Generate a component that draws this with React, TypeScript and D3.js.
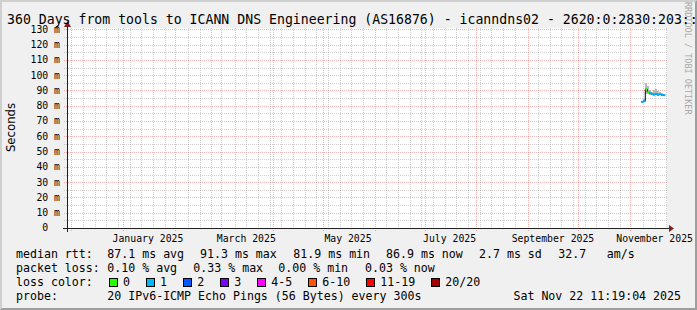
import React from 'react';
import * as d3 from 'd3';

const W = 697;
const H = 310;

const TITLE = '360 Days from tools to ICANN DNS Engineering (AS16876) - icanndns02 - 2620:0:2830:203::';
const Y_LABEL = 'Seconds';
const WATERMARK = 'RRDTOOL / TOBI OETIKER';

const timeDomain = ['2024-11-28T10:00:00Z', '2025-11-23T10:00:00Z'];
const yMax = 130.9;
const yMajorTicks = [10, 20, 30, 40, 50, 60, 70, 80, 90, 100, 110, 120, 130];
const yMinorTicks = [5, 15, 25, 35, 45, 55, 65, 75, 85, 95, 105, 115, 125];
const yLabelTicks = [0, 10, 20, 30, 40, 50, 60, 70, 80, 90, 100, 110, 120, 130];
const monthLabelDates = ['2025-01-16', '2025-03-16', '2025-05-16', '2025-07-16', '2025-09-16', '2025-11-16'];

// smoke / median samples (ms)
const sampleTimes = [
  '2025-11-08T00:00:00Z', '2025-11-09T04:48:00Z', '2025-11-10T09:36:00Z', '2025-11-11T14:24:00Z',
  '2025-11-12T19:12:00Z', '2025-11-14T00:00:00Z', '2025-11-15T04:48:00Z', '2025-11-16T09:36:00Z',
  '2025-11-17T14:24:00Z', '2025-11-18T19:12:00Z', '2025-11-20T00:00:00Z', '2025-11-21T04:48:00Z',
];
const medianRtt = [82.6, 83.0, 90.8, 89.0, 88.3, 87.6, 87.4, 87.8, 87.2, 87.5, 87.0, 86.9];
const smokeLow = [82.0, 82.3, 87.5, 87.6, 87.2, 86.9, 86.7, 86.9, 86.6, 86.8, 86.5, 86.4];
const smokeHigh = [83.2, 84.5, 95.0, 92.8, 90.0, 89.0, 90.5, 91.3, 89.5, 89.0, 88.2, 88.0];
const lossCount = [1, 1, 0, 0, 1, 1, 1, 1, 1, 1, 1, 1];

// legend
const rttValues = ['87.1', '91.3', '81.9', '86.9', '2.7'];
const rttUnits = ['ms avg', 'ms max', 'ms min', 'ms now', 'ms sd'];
const amValue = '32.7';
const amUnit = 'am/s';
const lossValues = ['0.10', '0.33', '0.00', '0.03'];
const lossUnits = ['% avg', '% max', '% min', '% now'];
const lossLabels = ['0', '1', '2', '3', '4-5', '6-10', '11-19', '20/20'];
const lossThresholds = [0, 1, 2, 3, 5, 10, 19, 20];
const lossColors = ['#26ff00', '#00b8ff', '#0059ff', '#7e00ff', '#ff00ff', '#ff5500', '#ff0000', '#a10000'];
const probeText = '20 IPv6-ICMP Echo Pings (56 Bytes) every 300s';
const dateText = 'Sat Nov 22 11:19:04 2025';

const MONO = '"DejaVu Sans Mono", monospace';

export default function App() {
  const L = 67, R = 667, T = 28, B = 228;
  const x = d3.scaleUtc().domain(timeDomain.map((d) => new Date(d))).range([L, R]);
  const y = d3.scaleLinear().domain([0, yMax]).range([B, T]);
  const px = (v: number) => Math.round(v) + 0.5;

  const [d0, d1] = x.domain();
  const months = d3.utcMonth.range(d0, d1);
  const weeks = d3.utcSunday.range(d0, d1).filter(
    (w) => !months.some((m) => Math.abs(x(m) - x(w)) < 2)
  );

  const times = sampleTimes.map((t) => new Date(t));
  const xs = times.map((t) => x(t));
  const step = xs[1] - xs[0];
  const xe = xs.map((v, i) => (i < xs.length - 1 ? xs[i + 1] : v + step));
  const colorOf = (loss: number) => {
    const i = lossThresholds.findIndex((th) => loss <= th);
    return lossColors[i < 0 ? lossColors.length - 1 : i];
  };

  const medPathFull = (() => {
    const pts: [number, number][] = [];
    medianRtt.forEach((m, i) => {
      pts.push([xs[i], y(m)]);
      pts.push([xe[i], y(m)]);
    });
    return d3.line()(pts) || '';
  })();

  const fmtMonth = d3.utcFormat('%B %Y');
  const fontLegend = 11.6;
  const fontAxis = 9.8;

  const rttCols = [107.3, 200, 293.3, 386, 479];
  const lossCols = [107.3, 193.3, 278.3, 365];
  const charW = 6.97;
  const boxXs: number[] = [];
  let bx = 108.7;
  lossLabels.forEach((lab) => {
    boxXs.push(bx);
    bx += 14.3 + lab.length * charW + 15.8;
  });

  const rows = [258, 272, 286, 300];

  return (
    <svg width={W} height={H} style={{ display: 'block', position: 'absolute', left: 0, top: 0 }} xmlns="http://www.w3.org/2000/svg">
      <rect x={0} y={0} width={W} height={H} fill="#f0f0f0" />
      {/* shade */}
      <polygon points={`0,0 ${W},0 ${W - 2},2 2,2 2,${H - 2} 0,${H}`} fill="#cfcfcf" />
      <polygon points={`${W},0 ${W},${H} 0,${H} 2,${H - 2} ${W - 2},${H - 2} ${W - 2},2`} fill="#9e9e9e" />
      {/* canvas */}
      <rect x={L} y={T} width={R - L} height={B - T} fill="#ffffff" />

      {/* minor grid */}
      <g stroke="rgba(143,143,143,0.42)" strokeWidth={1} strokeDasharray="1,1" shapeRendering="crispEdges">
        {yMinorTicks.map((v) => (
          <line key={'ym' + v} x1={L - 3} x2={R} y1={px(y(v))} y2={px(y(v))} />
        ))}
        {weeks.map((w, i) => (
          <line key={'xw' + i} x1={px(x(w))} x2={px(x(w))} y1={T} y2={B + 2} />
        ))}
      </g>
      {/* major grid */}
      <g stroke="rgba(222,80,80,0.42)" strokeWidth={1} strokeDasharray="1,1" shapeRendering="crispEdges">
        {yMajorTicks.map((v) => (
          <line key={'yM' + v} x1={L - 3} x2={R} y1={px(y(v))} y2={px(y(v))} />
        ))}
        {months.map((m, i) => (
          <line key={'xM' + i} x1={px(x(m))} x2={px(x(m))} y1={T} y2={B + 3} />
        ))}
      </g>

      {/* smoke */}
      <g shapeRendering="crispEdges">
        {medianRtt.map((_, i) => (
          <rect key={'s' + i} x={xs[i]} width={xe[i] - xs[i]} y={y(smokeHigh[i])} height={y(smokeLow[i]) - y(smokeHigh[i])} fill="#b8b8b8" />
        ))}
      </g>
      {/* median connector */}
      <path d={medPathFull} fill="none" stroke="#000" strokeWidth={1} />
      {/* median colored */}
      <g>
        {medianRtt.map((m, i) => (
          <line key={'m' + i} x1={xs[i]} x2={xe[i]} y1={y(m)} y2={y(m)} stroke={colorOf(lossCount[i])} strokeWidth={2} />
        ))}
      </g>

      {/* axes */}
      <g stroke="#212121" strokeWidth={1} shapeRendering="crispEdges">
        <line x1={L - 4} x2={R + 3} y1={B + 0.5} y2={B + 0.5} />
        <line x1={L + 0.5} x2={L + 0.5} y1={B + 4} y2={T - 3} />
      </g>
      <polygon points={`${R + 2},${B - 3} ${R + 7},${B + 0.5} ${R + 2},${B + 4}`} fill="#7f1f1f" />
      <polygon points={`${L - 3},${T - 1} ${L + 0.5},${T - 7} ${L + 4},${T - 1}`} fill="#7f1f1f" />

      {/* y labels */}
      <g fontFamily={MONO} fontSize={fontAxis} fill="#000">
        {yLabelTicks.map((v) => (
          <g key={'yl' + v}>
            <text x={48.2} y={y(v)} dy="0.35em" textAnchor="end">{v}</text>
            {v !== 0 && (
              <text x={54.1} y={y(v)} dy="0.35em">m</text>
            )}
          </g>
        ))}
        {monthLabelDates.map((d) => {
          const t = new Date(d + 'T00:00:00Z');
          return (
            <text key={d} x={x(t)} y={241.5} textAnchor="middle">{fmtMonth(t)}</text>
          );
        })}
      </g>

      <text
        transform={`translate(14.5, 127.5) rotate(-90)`}
        textAnchor="middle"
        fontFamily='"DejaVu Sans", sans-serif'
        fontSize={11.7}
        fill="#000"
      >
        {Y_LABEL}
      </text>

      <text
        transform="translate(684.5, 2) rotate(90)"
        fontFamily={MONO}
        fontSize={8.5}
        fill="#a8a8a8"
      >
        {WATERMARK}
      </text>

      <text x={7} y={23.5} fontFamily={MONO} fontSize={13.2} fill="#000" xmlSpace="preserve" style={{ whiteSpace: 'pre' }}>
        {TITLE}
      </text>

      {/* legend */}
      <g fontFamily={MONO} fontSize={fontLegend} fill="#000" style={{ whiteSpace: 'pre' }}>
        <text x={16} y={rows[0]}>median rtt:</text>
        {rttValues.map((v, i) => (
          <text key={'r' + i} x={rttCols[i]} y={rows[0]} xmlSpace="preserve">{`${v} ${rttUnits[i]}`}</text>
        ))}
        <text x={558.3} y={rows[0]}>{amValue}</text>
        <text x={606.7} y={rows[0]}>{amUnit}</text>

        <text x={16} y={rows[1]}>packet loss:</text>
        {lossValues.map((v, i) => (
          <text key={'l' + i} x={lossCols[i]} y={rows[1]} xmlSpace="preserve">{`${v} ${lossUnits[i]}`}</text>
        ))}

        <text x={16} y={rows[2]}>loss color:</text>
        {lossLabels.map((lab, i) => (
          <g key={'lc' + i}>
            <rect x={Math.round(boxXs[i]) + 0.5} y={278.5} width={8} height={8} fill={lossColors[i]} stroke="#000" strokeWidth={1} shapeRendering="crispEdges" />
            <text x={boxXs[i] + 14.3} y={rows[2]}>{lab}</text>
          </g>
        ))}

        <text x={16} y={rows[3]}>probe:</text>
        <text x={107.3} y={rows[3]} xmlSpace="preserve">{probeText}</text>
        <text x={681} y={rows[3]} textAnchor="end">{dateText}</text>
      </g>
    </svg>
  );
}
